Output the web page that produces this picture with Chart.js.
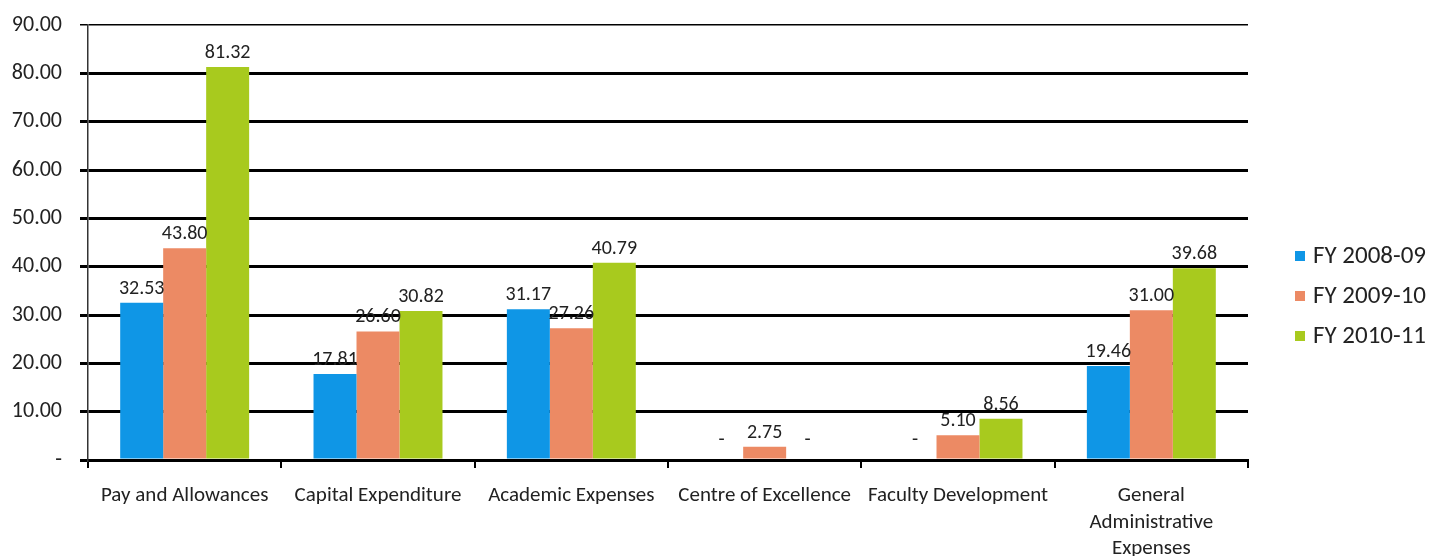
<!DOCTYPE html>
<html>
<head>
<meta charset="utf-8">
<title>Expenditure by head</title>
<script src="https://cdn.jsdelivr.net/npm/chart.js@4"></script>
<style>
  html, body { margin: 0; padding: 0; background: #fff; }
  #wrap { width: 1433px; height: 556px; position: relative; }
</style>
</head>
<body>
<div id="wrap"><canvas id="grafico"></canvas></div>
<script>
// Dados
const categorias = [
    'Pay and Allowances',
    'Capital Expenditure',
    'Academic Expenses',
    'Centre of Excellence',
    'Faculty Development',
    ['General', 'Administrative', 'Expenses']
];
const series = ['FY 2008-09', 'FY 2009-10', 'FY 2010-11'];
const fy0809 = [32.53, 17.81, 31.17, 0, 0, 19.46];
const fy0910 = [43.80, 26.60, 27.26, 2.75, 5.10, 31.00];
const fy1011 = [81.32, 30.82, 40.79, 0, 8.56, 39.68];
const cores = ['#0f96e6', '#ec8a64', '#a8ca1e'];
const yMax = 90;
const yStep = 10;

const fonte = "Carlito, 'Open Sans', sans-serif";
const corTexto = '#222';

// rótulos de valor acima das barras ("-" quando zero)
const rotulosValor = {
    id: 'rotulosValor',
    afterDatasetsDraw(chart) {
        const ctx = chart.ctx;
        ctx.save();
        ctx.font = '20px ' + fonte;
        ctx.fillStyle = corTexto;
        ctx.textAlign = 'center';
        ctx.textBaseline = 'bottom';
        chart.data.datasets.forEach((ds, i) => {
            chart.getDatasetMeta(i).data.forEach((bar, j) => {
                const v = ds.data[j];
                const txt = v === 0 ? '-' : v.toFixed(2);
                const y = v === 0 ? bar.y - 10 : bar.y - 4;
                ctx.fillText(txt, bar.x, y);
            });
        });
        ctx.restore();
    }
};

// legenda desenhada à direita
const legendaDireita = {
    id: 'legendaDireita',
    afterDraw(chart) {
        const ctx = chart.ctx;
        ctx.save();
        ctx.font = '25px ' + fonte;
        ctx.textBaseline = 'middle';
        ctx.textAlign = 'left';
        chart.data.datasets.forEach((ds, i) => {
            const y = 256 + i * 40;
            ctx.fillStyle = ds.backgroundColor;
            ctx.fillRect(1295, y - 5, 10, 10);
            ctx.fillStyle = corTexto;
            ctx.fillText(ds.label, 1313, y + 1);
        });
        ctx.restore();
    }
};

const ctx = document.getElementById('grafico').getContext('2d');
new Chart(ctx, {
    type: 'bar',
    data: {
        labels: categorias,
        datasets: [
            { label: series[0], data: fy0809, backgroundColor: cores[0] },
            { label: series[1], data: fy0910, backgroundColor: cores[1] },
            { label: series[2], data: fy1011, backgroundColor: cores[2] }
        ]
    },
    options: {
        responsive: true,
        maintainAspectRatio: false,
        animation: false,
        datasets: {
            bar: { categoryPercentage: 0.667, barPercentage: 1.0, borderWidth: 0 }
        },
        layout: { padding: { top: 25, right: 185, left: 0, bottom: 0 } },
        plugins: {
            legend: { display: false },
            tooltip: { enabled: false }
        },
        scales: {
            x: {
                grid: {
                    drawOnChartArea: false,
                    drawTicks: true,
                    tickLength: 8,
                    color: '#000',
                    lineWidth: 2
                },
                border: { display: true, color: '#000', width: 3 },
                ticks: {
                    color: corTexto,
                    font: { family: fonte, size: 21, lineHeight: 1.25 },
                    padding: 15,
                    maxRotation: 0,
                    autoSkip: false
                },
                afterFit(scale) { scale.height = 96; }
            },
            y: {
                min: 0,
                max: yMax,
                grid: {
                    color: '#000',
                    lineWidth: (c) => (c.tick && c.tick.value === yMax ? 1.5 : 3),
                    tickLength: 8
                },
                border: { display: true, color: '#333', width: 1.5 },
                ticks: {
                    stepSize: yStep,
                    color: corTexto,
                    font: { family: fonte, size: 22 },
                    padding: 18,
                    callback: (v) => (v === 0 ? '-' : v.toFixed(2))
                },
                afterFit(scale) {
                    scale.width = 88;
                    scale.paddingTop = 0;
                    scale.paddingBottom = 0;
                }
            }
        }
    },
    plugins: [rotulosValor, legendaDireita]
});
</script>
</body>
</html>
